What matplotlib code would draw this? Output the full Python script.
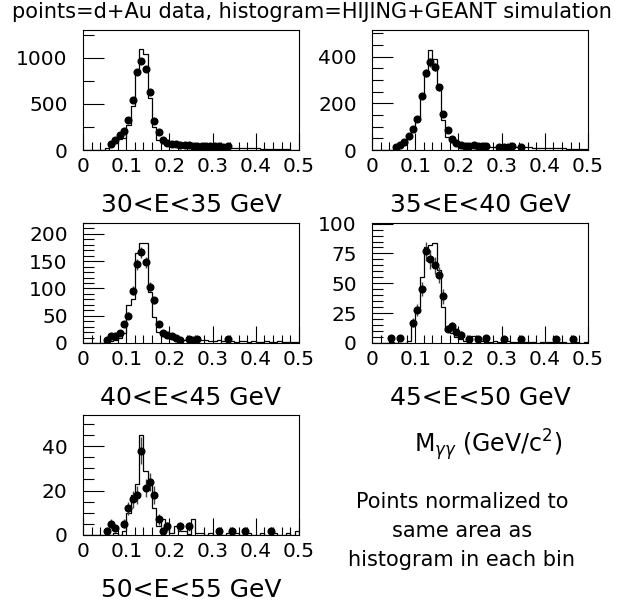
import numpy as np
import matplotlib.pyplot as plt
from matplotlib.ticker import MultipleLocator

# histogram = simulation, 50 bins of 0.01 from 0 to 0.5
edges = np.linspace(0, 0.5, 51)

sim_30_35 = [0, 0, 0, 0, 0, 20, 45, 80, 120, 135,
             275, 480, 820, 1090, 1040, 565, 250, 110, 80, 70,
             62, 55, 50, 46, 43, 40, 37, 35, 33, 31,
             29, 27, 26, 25, 24, 23, 22, 21, 20, 19,
             17, 15, 13, 11, 10, 8, 7, 6, 5, 4]
sim_35_40 = [0, 0, 0, 0, 0, 6, 15, 30, 50, 80,
             130, 234, 317, 431, 391, 264, 129, 57, 36, 28,
             24, 22, 20, 19, 18, 17, 16, 15, 15, 14,
             14, 13, 13, 12, 12, 11, 11, 10, 10, 9,
             9, 8, 8, 7, 7, 6, 6, 5, 5, 4]
sim_40_45 = [0, 0, 0, 0, 0, 1, 3, 5, 10, 19,
             70, 80, 165, 183, 183, 93, 47, 21, 16, 12,
             10, 8, 7, 6, 6, 5, 6, 5, 6, 4,
             3, 5, 3, 4, 3, 2, 3, 3, 2, 3,
             2, 2, 3, 2, 2, 3, 1, 2, 2, 1]
sim_45_50 = [0, 0, 0, 0, 1, 0, 0, 0, 2, 17,
             30, 55, 80, 82, 84, 61, 30, 10, 8, 5,
             3, 2, 1, 6, 1, 2, 1, 1, 2, 1,
             1, 2, 1, 1, 2, 1, 1, 1, 0, 1,
             1, 1, 0, 1, 1, 0, 1, 1, 0, 1]
sim_50_55 = [0, 0, 0, 0, 0, 0, 0, 1, 0, 2,
             10, 18, 23, 45, 29, 25, 12, 4, 7, 3,
             1, 4, 2, 2, 0.5, 7, 1, 1, 0, 1,
             0, 1, 0, 1, 0, 1, 0, 0, 1, 0,
             0, 1, 0, 0, 1, 0, 0, 1, 0, 2]

# points = d+Au data
x_30_35 = [0.065, 0.075, 0.085, 0.095, 0.105, 0.115, 0.125, 0.135, 0.145, 0.155,
           0.165, 0.175, 0.185, 0.195, 0.205, 0.215, 0.225, 0.235, 0.245, 0.255,
           0.265, 0.275, 0.285, 0.295, 0.305, 0.315, 0.325, 0.335]
y_30_35 = [65, 109, 160, 208, 325, 544, 840, 961, 873, 625,
           318, 190, 109, 73, 62, 69, 51, 55, 50, 47,
           45, 42, 40, 40, 38, 40, 36, 38]
e_30_35 = [10, 12, 14, 16, 20, 25, 30, 32, 30, 25,
           18, 14, 11, 9, 8, 8, 7, 7, 7, 7,
           7, 6, 6, 6, 6, 6, 6, 6]

x_35_40 = [0.055, 0.065, 0.075, 0.085, 0.095, 0.105, 0.115, 0.125, 0.135, 0.145,
           0.155, 0.165, 0.175, 0.185, 0.195, 0.205, 0.215, 0.225, 0.235, 0.245,
           0.255, 0.265, 0.295, 0.305, 0.315, 0.325, 0.345]
y_35_40 = [14, 21, 34, 61, 89, 131, 231, 329, 376, 357,
           269, 153, 84, 49, 29, 20, 17, 16, 20, 17,
           17, 17, 14, 14, 14, 19, 14]
e_35_40 = [4, 5, 6, 8, 9, 11, 14, 17, 18, 18,
           16, 12, 9, 7, 5, 4, 4, 4, 4, 4,
           4, 4, 4, 4, 4, 4, 4]

x_40_45 = [0.055, 0.065, 0.075, 0.085, 0.095, 0.105, 0.115, 0.125, 0.135, 0.145,
           0.155, 0.165, 0.175, 0.185, 0.195, 0.205, 0.215, 0.225, 0.245, 0.255,
           0.265, 0.335]
y_40_45 = [6, 12, 13, 18, 35, 50, 96, 144, 166, 148,
           103, 78, 35, 18, 15, 12, 9, 6, 7, 6,
           7, 8]
e_40_45 = [2, 3, 3, 4, 5, 6, 8, 10, 10, 10,
           8, 7, 5, 4, 3, 3, 3, 2, 2, 2,
           2, 3]

x_45_50 = [0.045, 0.065, 0.095, 0.105, 0.115, 0.125, 0.135, 0.145, 0.155, 0.165,
           0.175, 0.185, 0.195, 0.205, 0.225, 0.245, 0.265, 0.305, 0.345, 0.425,
           0.465]
y_45_50 = [4.5, 4, 17, 28, 45, 77, 70, 65, 57, 39,
           12, 14, 9, 7, 3, 3, 4, 3, 3, 3,
           3]
e_45_50 = [2, 2, 4, 5, 6, 8, 8, 7, 7, 6,
           3, 4, 3, 3, 2, 2, 2, 2, 2, 2,
           2]

x_50_55 = [0.055, 0.065, 0.075, 0.095, 0.105, 0.115, 0.125, 0.135, 0.145, 0.155,
           0.165, 0.175, 0.185, 0.195, 0.225, 0.245, 0.315, 0.345, 0.375, 0.435]
y_50_55 = [2, 5, 3, 5, 12, 16, 18, 38, 21, 24,
           18, 7, 2, 4, 4, 4, 2, 2, 2, 2]
e_50_55 = [1.5, 2, 1.5, 2, 3, 4, 4, 6, 4, 4,
           4, 2.5, 1.5, 2, 2, 2, 1.5, 1.5, 1.5, 1.5]

labels = ['30<E<35 GeV', '35<E<40 GeV', '40<E<45 GeV', '45<E<50 GeV', '50<E<55 GeV']
sims = [sim_30_35, sim_35_40, sim_40_45, sim_45_50, sim_50_55]
xs = [x_30_35, x_35_40, x_40_45, x_45_50, x_50_55]
ys = [y_30_35, y_35_40, y_40_45, y_45_50, y_50_55]
es = [e_30_35, e_35_40, e_40_45, e_45_50, e_50_55]
ymax = [1300, 515, 220, 100.5, 54]
ymajor = [500, 200, 50, 25, 20]
yminor = [250, 50, 10, 5, 5]

fig = plt.figure(figsize=(6.23, 6.03), dpi=100)

# axes boxes in pixels: left, top
boxes = [(83, 30), (372, 30), (83, 223), (372, 223), (83, 415)]
W, H = 623, 603

for i, (px, py) in enumerate(boxes):
    ax = fig.add_axes([px / W, 1 - (py + 120) / H, 216 / W, 120 / H])
    ax.stairs(sims[i], edges, color='black', lw=0.9)
    ax.errorbar(xs[i], ys[i], yerr=es[i], fmt='o', color='black', ms=4.8,
                ecolor='#444444', elinewidth=1, capsize=0)
    ax.set_xlim(0, 0.5)
    ax.set_ylim(0, ymax[i])
    ax.xaxis.set_major_locator(MultipleLocator(0.1))
    ax.xaxis.set_minor_locator(MultipleLocator(0.02))
    ax.yaxis.set_major_locator(MultipleLocator(ymajor[i]))
    ax.yaxis.set_minor_locator(MultipleLocator(yminor[i]))
    ax.set_xticks([0, 0.1, 0.2, 0.3, 0.4, 0.5])
    ax.set_xticklabels(['0', '0.1', '0.2', '0.3', '0.4', '0.5'])
    ax.tick_params(which='both', direction='in', top=False, right=False,
                   labelsize=14.5, width=0.8)
    ax.tick_params(axis='x', which='major', length=12, pad=5)
    ax.tick_params(axis='x', which='minor', length=6)
    ax.tick_params(axis='y', which='major', length=15, pad=11)
    ax.tick_params(axis='y', which='minor', length=8)
    for s in ax.spines.values():
        s.set_linewidth(0.8)
    cx = (px + 108) / W
    fig.text(cx, 1 - (py + 175) / H, labels[i], ha='center', va='center', fontsize=18)

fig.text(0.5, 1 - 12 / H, 'points=d+Au data, histogram=HIJING+GEANT simulation',
         ha='center', va='center', fontsize=15)
fig.text(488 / W, 1 - 445 / H, r'M$_{\gamma\gamma}$ (GeV/c$^2$)',
         ha='center', va='center', fontsize=17)
fig.text(462 / W, 1 - 531 / H, 'Points normalized to\nsame area as\nhistogram in each bin',
         ha='center', va='center', fontsize=15, linespacing=1.55)

fig.savefig('out.png', dpi=100)
